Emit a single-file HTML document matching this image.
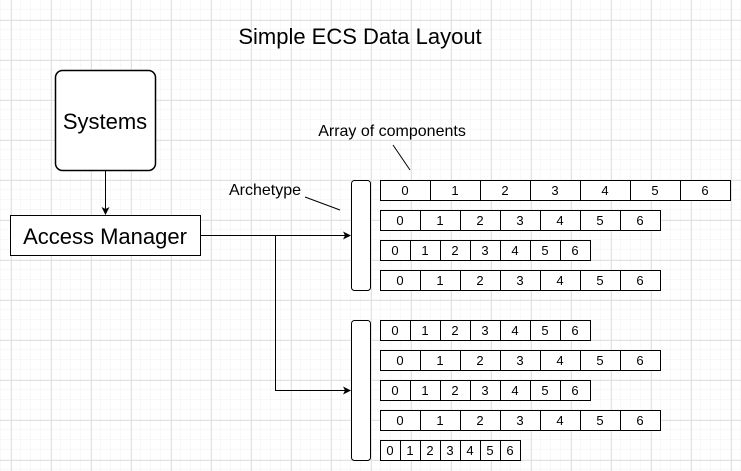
<!DOCTYPE html>
<html><head><meta charset="utf-8"><style>
html,body{margin:0;padding:0;background:#fff;}
body{width:741px;height:471px;overflow:hidden;position:relative;font-family:"Liberation Sans",Arial,sans-serif;}
</style></head><body>
<svg width="741" height="471" xmlns="http://www.w3.org/2000/svg" style="position:absolute;left:0;top:0" font-family="Liberation Sans, Arial, sans-serif">
<defs>
<pattern id="minor" width="10" height="10" patternUnits="userSpaceOnUse" x="1" y="0">
<path d="M10 0V10M0 10H10" fill="none" stroke="#f0f0f0" stroke-width="1"/></pattern>
<pattern id="major" width="40" height="40" patternUnits="userSpaceOnUse" x="11" y="20">
<path d="M0.5 0V40M0 0.5H40" fill="none" stroke="#e2e2e2" stroke-width="1"/></pattern>
<marker id="ar" markerWidth="8" markerHeight="8" refX="7" refY="4" orient="auto" markerUnits="userSpaceOnUse"><path d="M0,0 L8,4 L0,8 L2,4z" fill="#000"/></marker>
</defs>
<rect width="741" height="471" fill="url(#minor)"/>
<rect width="741" height="471" fill="url(#major)"/>
<text x="360" y="44" font-size="22" text-anchor="middle">Simple ECS Data Layout</text>
<rect x="55.5" y="70.5" width="100" height="100" rx="7" fill="#fff" stroke="#000" stroke-width="1.5"/>
<text x="105" y="129" font-size="22" text-anchor="middle">Systems</text>
<line x1="105.5" y1="171" x2="105.5" y2="214" stroke="#000" marker-end="url(#ar)"/>
<rect x="10.5" y="215.5" width="190" height="40" fill="#fff" stroke="#000"/>
<text x="105" y="244" font-size="22" text-anchor="middle">Access Manager</text>
<line x1="201" y1="235.5" x2="350" y2="235.5" stroke="#000" marker-end="url(#ar)"/>
<polyline points="275.5,235.5 275.5,390.5 350,390.5" fill="none" stroke="#000" marker-end="url(#ar)"/>
<text x="265" y="195" font-size="16" text-anchor="middle">Archetype</text>
<line x1="305" y1="197" x2="340" y2="210" stroke="#000"/>
<text x="392" y="136" font-size="16" text-anchor="middle">Array of components</text>
<line x1="393" y1="145" x2="410" y2="170" stroke="#000"/>
<rect x="351.5" y="180.5" width="19" height="110" rx="3" fill="#fff" stroke="#000"/>
<rect x="351.5" y="320.5" width="19" height="140" rx="3" fill="#fff" stroke="#000"/>
<g font-size="13" text-anchor="middle">
<g>
<rect x="380.5" y="180.5" width="50" height="20" fill="#fff" stroke="#000"/><text x="405" y="195">0</text>
<rect x="430.5" y="180.5" width="50" height="20" fill="#fff" stroke="#000"/><text x="455" y="195">1</text>
<rect x="480.5" y="180.5" width="50" height="20" fill="#fff" stroke="#000"/><text x="505" y="195">2</text>
<rect x="530.5" y="180.5" width="50" height="20" fill="#fff" stroke="#000"/><text x="555" y="195">3</text>
<rect x="580.5" y="180.5" width="50" height="20" fill="#fff" stroke="#000"/><text x="605" y="195">4</text>
<rect x="630.5" y="180.5" width="50" height="20" fill="#fff" stroke="#000"/><text x="655" y="195">5</text>
<rect x="680.5" y="180.5" width="50" height="20" fill="#fff" stroke="#000"/><text x="705" y="195">6</text>
</g>
<g>
<rect x="380.5" y="210.5" width="40" height="20" fill="#fff" stroke="#000"/><text x="400" y="225">0</text>
<rect x="420.5" y="210.5" width="40" height="20" fill="#fff" stroke="#000"/><text x="440" y="225">1</text>
<rect x="460.5" y="210.5" width="40" height="20" fill="#fff" stroke="#000"/><text x="480" y="225">2</text>
<rect x="500.5" y="210.5" width="40" height="20" fill="#fff" stroke="#000"/><text x="520" y="225">3</text>
<rect x="540.5" y="210.5" width="40" height="20" fill="#fff" stroke="#000"/><text x="560" y="225">4</text>
<rect x="580.5" y="210.5" width="40" height="20" fill="#fff" stroke="#000"/><text x="600" y="225">5</text>
<rect x="620.5" y="210.5" width="40" height="20" fill="#fff" stroke="#000"/><text x="640" y="225">6</text>
</g>
<g>
<rect x="380.5" y="240.5" width="30" height="20" fill="#fff" stroke="#000"/><text x="395" y="255">0</text>
<rect x="410.5" y="240.5" width="30" height="20" fill="#fff" stroke="#000"/><text x="425" y="255">1</text>
<rect x="440.5" y="240.5" width="30" height="20" fill="#fff" stroke="#000"/><text x="455" y="255">2</text>
<rect x="470.5" y="240.5" width="30" height="20" fill="#fff" stroke="#000"/><text x="485" y="255">3</text>
<rect x="500.5" y="240.5" width="30" height="20" fill="#fff" stroke="#000"/><text x="515" y="255">4</text>
<rect x="530.5" y="240.5" width="30" height="20" fill="#fff" stroke="#000"/><text x="545" y="255">5</text>
<rect x="560.5" y="240.5" width="30" height="20" fill="#fff" stroke="#000"/><text x="575" y="255">6</text>
</g>
<g>
<rect x="380.5" y="270.5" width="40" height="20" fill="#fff" stroke="#000"/><text x="400" y="285">0</text>
<rect x="420.5" y="270.5" width="40" height="20" fill="#fff" stroke="#000"/><text x="440" y="285">1</text>
<rect x="460.5" y="270.5" width="40" height="20" fill="#fff" stroke="#000"/><text x="480" y="285">2</text>
<rect x="500.5" y="270.5" width="40" height="20" fill="#fff" stroke="#000"/><text x="520" y="285">3</text>
<rect x="540.5" y="270.5" width="40" height="20" fill="#fff" stroke="#000"/><text x="560" y="285">4</text>
<rect x="580.5" y="270.5" width="40" height="20" fill="#fff" stroke="#000"/><text x="600" y="285">5</text>
<rect x="620.5" y="270.5" width="40" height="20" fill="#fff" stroke="#000"/><text x="640" y="285">6</text>
</g>
<g>
<rect x="380.5" y="320.5" width="30" height="20" fill="#fff" stroke="#000"/><text x="395" y="335">0</text>
<rect x="410.5" y="320.5" width="30" height="20" fill="#fff" stroke="#000"/><text x="425" y="335">1</text>
<rect x="440.5" y="320.5" width="30" height="20" fill="#fff" stroke="#000"/><text x="455" y="335">2</text>
<rect x="470.5" y="320.5" width="30" height="20" fill="#fff" stroke="#000"/><text x="485" y="335">3</text>
<rect x="500.5" y="320.5" width="30" height="20" fill="#fff" stroke="#000"/><text x="515" y="335">4</text>
<rect x="530.5" y="320.5" width="30" height="20" fill="#fff" stroke="#000"/><text x="545" y="335">5</text>
<rect x="560.5" y="320.5" width="30" height="20" fill="#fff" stroke="#000"/><text x="575" y="335">6</text>
</g>
<g>
<rect x="380.5" y="350.5" width="40" height="20" fill="#fff" stroke="#000"/><text x="400" y="365">0</text>
<rect x="420.5" y="350.5" width="40" height="20" fill="#fff" stroke="#000"/><text x="440" y="365">1</text>
<rect x="460.5" y="350.5" width="40" height="20" fill="#fff" stroke="#000"/><text x="480" y="365">2</text>
<rect x="500.5" y="350.5" width="40" height="20" fill="#fff" stroke="#000"/><text x="520" y="365">3</text>
<rect x="540.5" y="350.5" width="40" height="20" fill="#fff" stroke="#000"/><text x="560" y="365">4</text>
<rect x="580.5" y="350.5" width="40" height="20" fill="#fff" stroke="#000"/><text x="600" y="365">5</text>
<rect x="620.5" y="350.5" width="40" height="20" fill="#fff" stroke="#000"/><text x="640" y="365">6</text>
</g>
<g>
<rect x="380.5" y="380.5" width="30" height="20" fill="#fff" stroke="#000"/><text x="395" y="395">0</text>
<rect x="410.5" y="380.5" width="30" height="20" fill="#fff" stroke="#000"/><text x="425" y="395">1</text>
<rect x="440.5" y="380.5" width="30" height="20" fill="#fff" stroke="#000"/><text x="455" y="395">2</text>
<rect x="470.5" y="380.5" width="30" height="20" fill="#fff" stroke="#000"/><text x="485" y="395">3</text>
<rect x="500.5" y="380.5" width="30" height="20" fill="#fff" stroke="#000"/><text x="515" y="395">4</text>
<rect x="530.5" y="380.5" width="30" height="20" fill="#fff" stroke="#000"/><text x="545" y="395">5</text>
<rect x="560.5" y="380.5" width="30" height="20" fill="#fff" stroke="#000"/><text x="575" y="395">6</text>
</g>
<g>
<rect x="380.5" y="410.5" width="40" height="20" fill="#fff" stroke="#000"/><text x="400" y="425">0</text>
<rect x="420.5" y="410.5" width="40" height="20" fill="#fff" stroke="#000"/><text x="440" y="425">1</text>
<rect x="460.5" y="410.5" width="40" height="20" fill="#fff" stroke="#000"/><text x="480" y="425">2</text>
<rect x="500.5" y="410.5" width="40" height="20" fill="#fff" stroke="#000"/><text x="520" y="425">3</text>
<rect x="540.5" y="410.5" width="40" height="20" fill="#fff" stroke="#000"/><text x="560" y="425">4</text>
<rect x="580.5" y="410.5" width="40" height="20" fill="#fff" stroke="#000"/><text x="600" y="425">5</text>
<rect x="620.5" y="410.5" width="40" height="20" fill="#fff" stroke="#000"/><text x="640" y="425">6</text>
</g>
<g>
<rect x="380.5" y="440.5" width="20" height="20" fill="#fff" stroke="#000"/><text x="390" y="455">0</text>
<rect x="400.5" y="440.5" width="20" height="20" fill="#fff" stroke="#000"/><text x="410" y="455">1</text>
<rect x="420.5" y="440.5" width="20" height="20" fill="#fff" stroke="#000"/><text x="430" y="455">2</text>
<rect x="440.5" y="440.5" width="20" height="20" fill="#fff" stroke="#000"/><text x="450" y="455">3</text>
<rect x="460.5" y="440.5" width="20" height="20" fill="#fff" stroke="#000"/><text x="470" y="455">4</text>
<rect x="480.5" y="440.5" width="20" height="20" fill="#fff" stroke="#000"/><text x="490" y="455">5</text>
<rect x="500.5" y="440.5" width="20" height="20" fill="#fff" stroke="#000"/><text x="510" y="455">6</text>
</g>
</g>
</svg>
</body></html>
